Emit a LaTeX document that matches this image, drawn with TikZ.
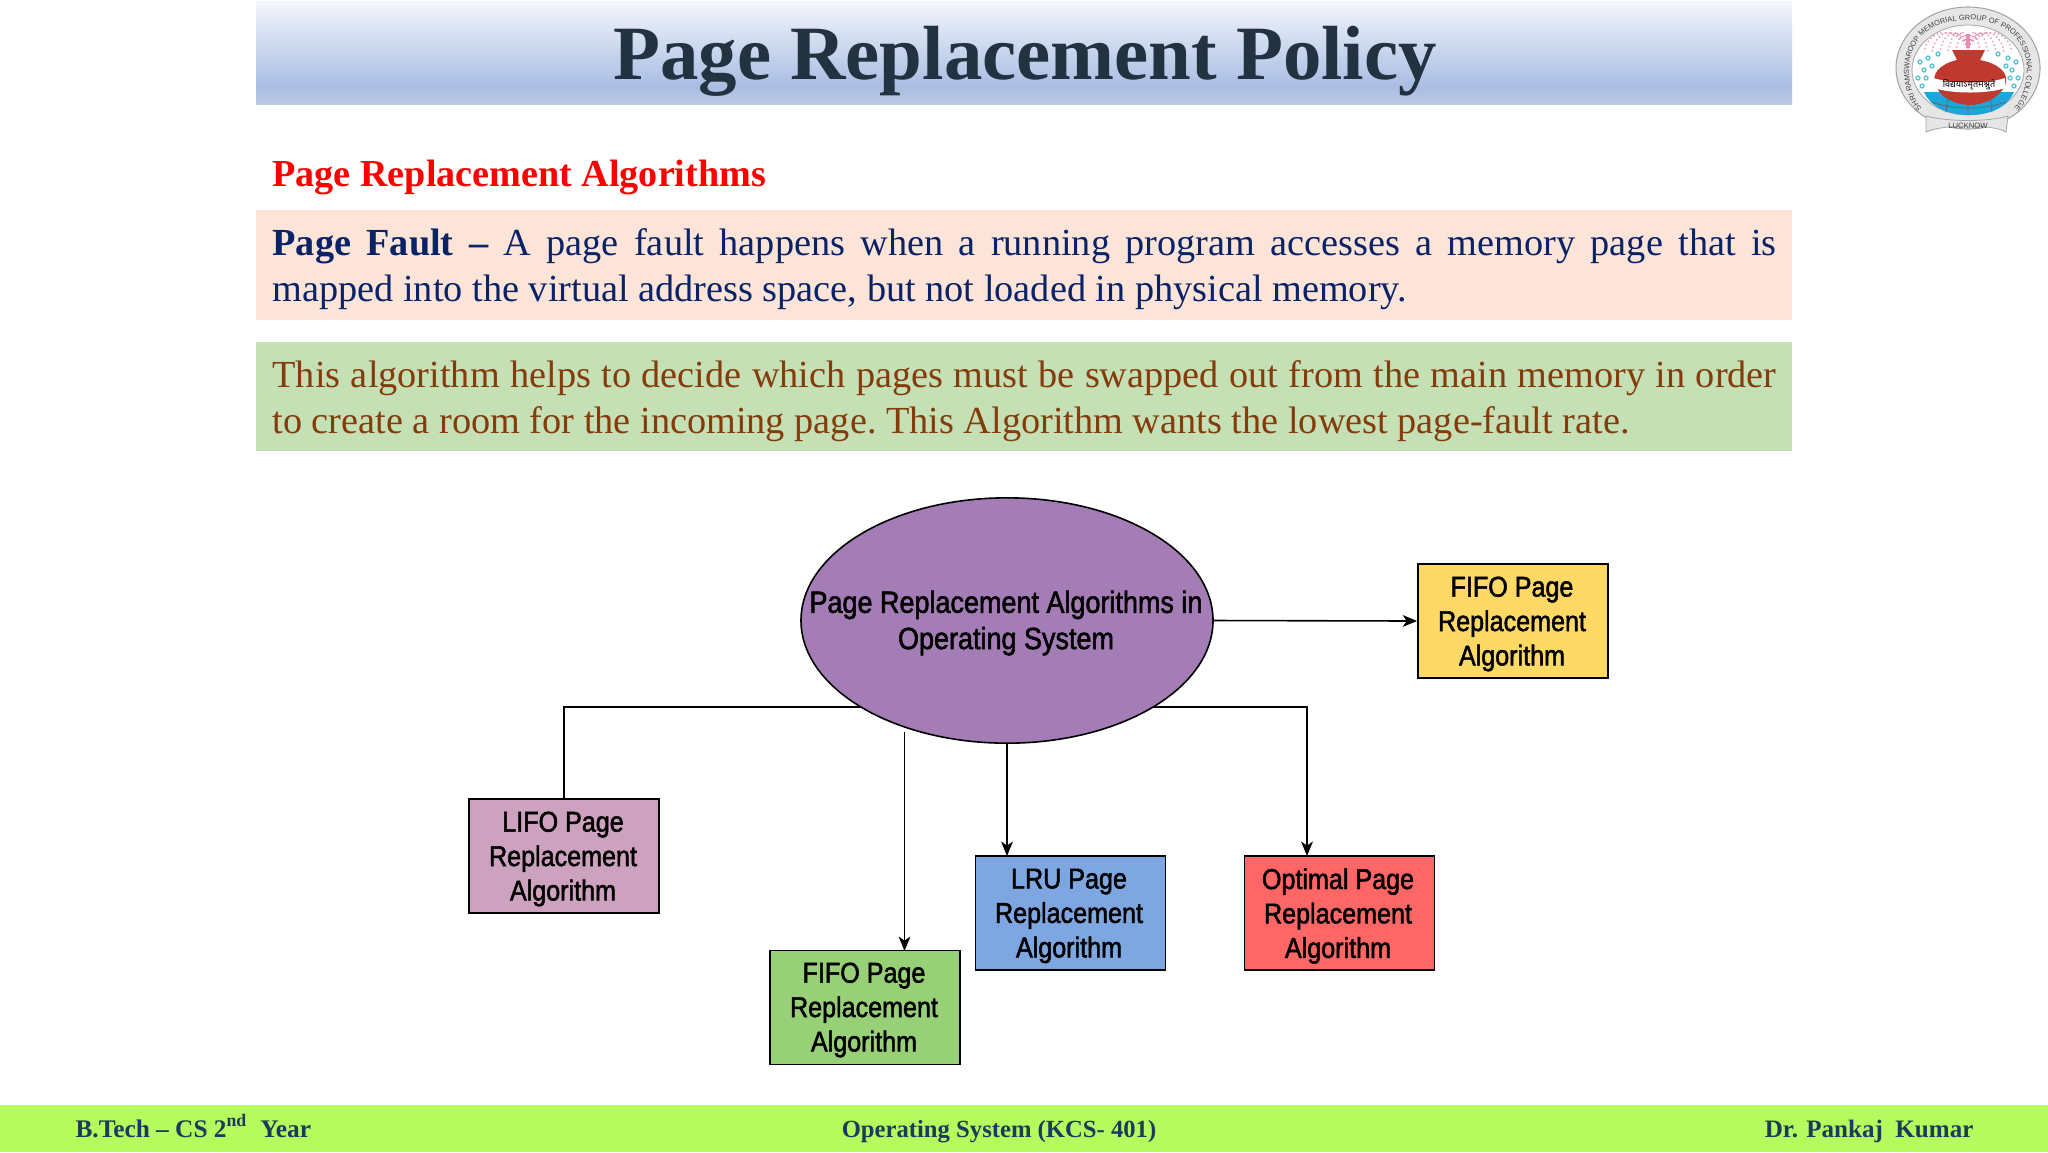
\documentclass[tikz,border=0pt]{standalone}
\usepackage{fontspec}
\usetikzlibrary{shapes.geometric,arrows.meta,decorations.text}
\setmainfont{Liberation Serif}
\newfontfamily\dgfont[FakeStretch=0.88,FakeBold=1.8]{Liberation Sans}
\newfontfamily\logofont{Liberation Sans}
\newfontfamily\devfont[Script=Devanagari]{Noto Sans}
\definecolor{hdrtop}{HTML}{F4F6FC}
\definecolor{hdrmid}{HTML}{A9BDE2}
\definecolor{hdrbot}{HTML}{BCCBE8}
\definecolor{titlec}{HTML}{223240}
\definecolor{peach}{HTML}{FCE4D8}
\definecolor{leaf}{HTML}{C5E0B4}
\definecolor{navy}{HTML}{0A2266}
\definecolor{rust}{HTML}{843C0C}
\definecolor{foot}{HTML}{B5FB5E}
\definecolor{footxt}{HTML}{1B3A5C}
\definecolor{purp}{HTML}{A57DB6}
\definecolor{cyell}{HTML}{FFD966}
\definecolor{cpink}{HTML}{CDA2BE}
\definecolor{cgreen}{HTML}{97D077}
\definecolor{cblue}{HTML}{7EA6E0}
\definecolor{cred}{HTML}{FF6666}
\definecolor{potred}{HTML}{C0392F}
\definecolor{ringg}{HTML}{E6E6E6}
\definecolor{logosky}{HTML}{1CA6DC}
\definecolor{logopk}{HTML}{E88BB0}
\definecolor{logocy}{HTML}{5CC4D8}
\tikzset{
  algobox/.style={draw=black,line width=0.6pt,minimum width=71.3pt,minimum height=42.8pt,inner sep=0pt},
  boxlabel/.style={inner sep=0pt,font=\dgfont\fontsize{10.7}{12.9}\selectfont,align=center,text=black},
  conn/.style={draw=black,line width=0.6pt},
  arr/.style={conn,-{Stealth[length=5.4pt,width=4.4pt,inset=1.5pt]}},
  para/.style={anchor=west,inner sep=0pt,align=left,font=\fontsize{14.36}{17.2}\selectfont},
  footlab/.style={font=\bfseries\fontsize{9.25}{11}\selectfont,text=footxt,inner sep=0pt,anchor=base},
}
\newcommand{\jline}[1]{\makebox[564pt][s]{#1}}
\begin{document}
\begin{tikzpicture}[x=0.375pt,y=-0.375pt]
\useasboundingbox (0,0) rectangle (2048,1152);
\fill[white] (0,0) rectangle (2048,1152);
% header
\shade[top color=hdrtop,bottom color=hdrmid] (256,1) rectangle (1792,87);
\shade[top color=hdrmid,bottom color=hdrbot] (256,87) rectangle (1792,104);
\node[inner sep=0pt,text=titlec,font=\bfseries\fontsize{28.8}{32}\selectfont] (title) at (1025,61) {Page Replacement Policy};
% heading
\node[anchor=west,inner sep=0pt,text=red,font=\bfseries\fontsize{14.3}{16}\selectfont] (head) at (272,177) {Page Replacement Algorithms};
% boxes
\fill[peach] (256,210) rectangle (1792,320);
\node[para,text=navy] (p1) at (272,269) {\jline{\textbf{Page Fault –} A page fault happens when a running program accesses a memory page that is}\\mapped into the virtual address space, but not loaded in physical memory.};
\fill[leaf] (256,342) rectangle (1792,451);
\node[para,text=rust] (p2) at (272,401) {\jline{This algorithm helps to decide which pages must be swapped out from the main memory in order}\\to create a room for the incoming page.\ This Algorithm wants the lowest page-fault rate.};
% diagram
\node[ellipse,draw=black,line width=0.6pt,fill=purp,minimum width=154.5pt,minimum height=92pt,inner sep=0pt] (el) at (1007,620.5) {};
\node[inner sep=0pt,align=center,font=\dgfont\fontsize{11.5}{13.6}\selectfont] (ellab) at (1006,623) {Page Replacement Algorithms in\\Operating System};
\node[algobox,fill=cyell]  (fifoa) at (1513,621)   {};
\node[boxlabel] (tfifoa) at (1512,624) {FIFO Page\\Replacement\\Algorithm};
\node[algobox,fill=cpink]  (lifo)  at (564,856)    {};
\node[boxlabel] (tlifo) at (563,859) {LIFO Page\\Replacement\\Algorithm};
\node[algobox,fill=cgreen] (fifob) at (865,1007.5) {};
\node[boxlabel] (tfifob) at (864,1010) {FIFO Page\\Replacement\\Algorithm};
\node[algobox,fill=cblue]  (lru)   at (1070.5,913) {};
\node[boxlabel] (tlru) at (1069,916) {LRU Page\\Replacement\\Algorithm};
\node[algobox,fill=cred]   (opt)   at (1339.5,913) {};
\node[boxlabel] (topt) at (1338,916) {Optimal Page\\Replacement\\Algorithm};
\coordinate (elL) at (861,707);
\coordinate (elR) at (1153,707);
\coordinate (elG) at (904.5,732);
\coordinate (elB) at (1007,743);
\coordinate (fbtop) at (904.5,951);
\coordinate (lrutop) at (1007,856);
\coordinate (opttop) at (1307,856);
\draw[arr] (el.east) -- (fifoa.west);
\draw[conn] (elL) -| (lifo.north);
\draw[arr] (elR) -| (opttop);
\draw[arr] (elG) -- (fbtop);
\draw[arr] (elB) -- (lrutop);
% footer
\fill[foot] (0,1105) rectangle (2048,1152);
\node[footlab,anchor=base west,font=\bfseries\fontsize{9.5}{11}\selectfont] (f1) at (75,1137) {B.Tech – CS 2\textsuperscript{nd}\ \ Year};
\node[footlab] (f2) at (999,1137) {Operating System (KCS- 401)};
\node[footlab,anchor=base east,font=\bfseries\fontsize{9.4}{11}\selectfont] (f3) at (1974,1137) {Dr. Pankaj\ \ Kumar};
% logo
\begin{scope}[shift={(1968,72)}]
  \fill[ringg] (0,-4) ellipse (72 and 61);
  \draw[gray!70,line width=0.4pt] (0,-4) ellipse (72 and 61);
  \fill[white] (0,-2) ellipse (56 and 45);
  \draw[gray!70,line width=0.3pt] (0,-2) ellipse (56 and 45);
  % fountain
  \foreach \r in {8,16,24,32,40}{
    \draw[logopk,line width=0.5pt,densely dotted] (0,-24) .. controls (-\r*0.3,-46) and (-\r,-44) .. (-\r-4,-20);
    \draw[logopk,line width=0.5pt,densely dotted] (0,-24) .. controls (\r*0.3,-46) and (\r,-44) .. (\r+4,-20);
  }
  \draw[logopk,line width=1.2pt] (0,-24) -- (0,-38);
  \foreach \a/\b in {-48/-10,-40/-14,-30/-18,-44/-2,-36/-6,-50/6,-42/6,-46/14,48/-10,40/-14,30/-18,44/-2,38/-6,50/6,42/6,46/14}{
    \draw[logocy,line width=0.5pt] (\a,\b) circle (2);
  }
  % tiles
  \fill[logosky] (-44,20) -- (46,20) .. controls (40,34) and (24,43) .. (1,43) .. controls (-22,43) and (-38,34) .. cycle;
  \draw[black!60,line width=0.3pt] (-36,30) .. controls (-15,38) and (15,38) .. (38,30)
    (-20,24) -- (-22,40) (0,28) -- (0,43) (22,24) -- (24,40);
  % pot
  \fill[potred] (-16,-22) -- (17,-22) -- (12,-12) .. controls (32,-8) and (42,2) .. (37,14) .. controls (30,27) and (14,33) .. (2,33) .. controls (-10,33) and (-27,27) .. (-32,14) .. controls (-38,2) and (-28,-8) .. (-11,-12) -- cycle;
  \fill[white] (-35,6) .. controls (-15,12) and (20,12) .. (37,6) -- (37,16) .. controls (20,22) and (-15,22) .. (-35,16) -- cycle;
  \node[inner sep=0pt,font=\devfont\fontsize{3.4}{4}\selectfont] (sans) at (1,13) {विद्ययाऽमृतमश्नुते};
  % ribbon
  \fill[ringg,draw=gray!70,line width=0.3pt] (-42,44) .. controls (-20,50) and (20,50) .. (40,44) -- (38,60) .. controls (25,52) and (-25,52) .. (-42,60) -- cycle;
  \node[inner sep=0pt,font=\logofont\fontsize{2.9}{3}\selectfont,text=black!75] (luck) at (0,54) {LUCKNOW};
  \path[decorate,decoration={text along path,text align={fit to path},
      text={|\logofont\fontsize{2.8}{3}\selectfont\color{black!75}|SHRI RAMSWAROOP MEMORIAL GROUP OF PROFESSIONAL COLLEGES}}]
    (-46,36) .. controls (-64,20) and (-74,-52) .. (0,-52) .. controls (74,-52) and (64,20) .. (46,36);
\end{scope}
\end{tikzpicture}
\end{document}
